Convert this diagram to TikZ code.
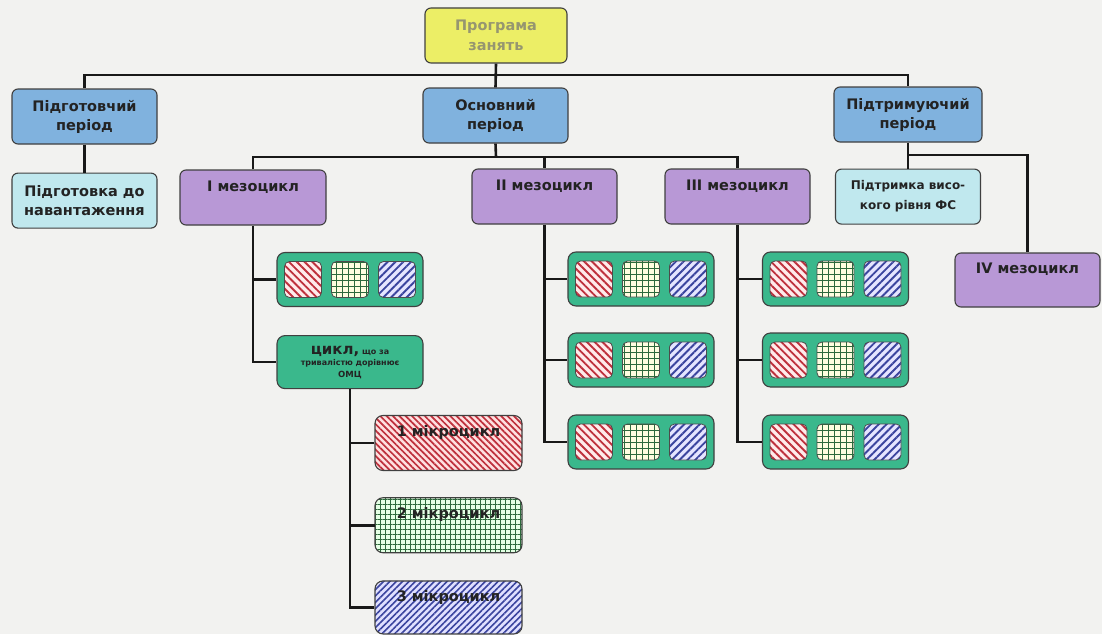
\documentclass[tikz,border=0pt]{standalone}
\usepackage{fontspec}
\setmainfont{DejaVu Sans}
\usetikzlibrary{positioning,patterns.meta}

\definecolor{bgpaper}{RGB}{242,242,240}
\definecolor{progyellow}{RGB}{236,238,102}
\definecolor{progtext}{RGB}{150,150,112}
\definecolor{periodblue}{RGB}{128,178,222}
\definecolor{taskcyan}{RGB}{192,232,238}
\definecolor{mesopurple}{RGB}{184,152,214}
\definecolor{cyclegreen}{RGB}{58,184,140}
\definecolor{stripered}{RGB}{190,48,60}
\definecolor{stripeblue}{RGB}{58,68,158}
\definecolor{gridgreen}{RGB}{45,105,60}
\definecolor{inktext}{RGB}{35,35,35}

\tikzset{
  conn/.style={line width=2.6pt, black!90},
  box/.style={draw=black!75, line width=1.1pt, rounded corners=6pt,
    minimum width=145pt, minimum height=55pt, inner sep=2pt,
    align=center, text=inktext, font=\fontsize{14.5}{19}\selectfont\bfseries},
  progbox/.style={box, fill=progyellow, minimum width=142pt, text=progtext,
    font=\fontsize{14.5}{20}\selectfont\bfseries},
  periodbox/.style={box, fill=periodblue},
  taskbox/.style={box, fill=taskcyan},
  mesobox/.style={box, fill=mesopurple},
  cyclebox/.style={box, fill=cyclegreen, minimum width=146pt, minimum height=54pt,
    rounded corners=8pt},
  sq/.style={draw=black!70, line width=0.8pt, rounded corners=5pt,
    minimum width=37pt, minimum height=36pt, inner sep=0pt},
  redsq/.style={sq, preaction={fill=white!92!red},
    pattern={Lines[angle=-45,distance=5.5pt,line width=1.9pt]}, pattern color=stripered},
  gridsq/.style={sq, preaction={fill=yellow!12},
    pattern={Hatch[angle=0,distance=6pt,line width=0.8pt]}, pattern color=gridgreen},
  bluesq/.style={sq, preaction={fill=white!90!blue},
    pattern={Lines[angle=45,distance=5.5pt,line width=1.9pt]}, pattern color=stripeblue},
  microbox/.style={box, minimum width=147pt, rounded corners=8pt},
  microred/.style={microbox, preaction={fill=white!88!red},
    pattern={Lines[angle=-45,distance=4.5pt,line width=1.7pt]}, pattern color=stripered},
  microgrid/.style={microbox, preaction={fill=green!10},
    pattern={Hatch[angle=0,distance=5pt,line width=0.8pt]}, pattern color=gridgreen},
  microblue/.style={microbox, preaction={fill=white!88!blue},
    pattern={Lines[angle=45,distance=4.5pt,line width=1.6pt]}, pattern color=stripeblue},
}

% row of three loads inside a green box
\newcommand{\weekrow}[2]{%
  \node[cyclebox] (#1) at (#2) {};
  \node[redsq] (#1r) at ([xshift=-47pt]#1.center) {};
  \node[gridsq] (#1g) at (#1.center) {};
  \node[bluesq] (#1b) at ([xshift=47pt]#1.center) {};
}

\begin{document}
\begin{tikzpicture}[x=1pt,y=-1pt]
\fill[bgpaper] (0,0) rectangle (1102,634);
\useasboundingbox (0,0) rectangle (1102,634);

% top levels
\node[progbox] (root) at (496,35.5) {Програма\\занять};
\node[periodbox] (prep) at (84.5,116.5) {Підготовчий\\період};
\node[periodbox] (main) at (495.5,115.5) {Основний\\період};
\node[periodbox, minimum width=148pt] (supp) at (908,114.5) {Підтримуючий\\період};

\node[taskbox, below=28pt of prep] (prepload) {Підготовка до\\навантаження};
\node[taskbox, below=26pt of supp, minimum width=145pt,
  font=\fontsize{12}{20}\selectfont\bfseries] (supphigh) {Підтримка висо-\\кого рівня ФС};

\node[mesobox, minimum width=146pt] (meso1) at (253,197.5) {I мезоцикл\\[3pt]\mbox{}};
\node[mesobox] (meso2) at (544.5,196.5) {II мезоцикл\\[3pt]\mbox{}};
\node[mesobox] (meso3) at (737.5,196.5) {III мезоцикл\\[3pt]\mbox{}};
\node[mesobox, minimum height=54pt] (meso4) at (1027.5,280) {IV мезоцикл\\[4pt]\mbox{}};

% I mesocycle
\weekrow{wk1}{350,279.5}
\node[cyclebox, below=28pt of wk1, minimum height=53pt, font=\fontsize{8}{11.5}\selectfont\bfseries] (cycle)
  {{\fontsize{15}{12}\selectfont цикл,} що за\\тривалістю дорівнює\\{\fontsize{8.5}{11.5}\selectfont ОМЦ}};

\node[microred] (micro1) at (448.5,443) {1 мікроцикл\\[5pt]\mbox{}};
\node[microgrid, below=26pt of micro1] (micro2) {2 мікроцикл\\[5pt]\mbox{}};
\node[microblue, below=27pt of micro2, minimum height=53pt] (micro3) {3 мікроцикл\\[4pt]\mbox{}};

% II and III mesocycles
\weekrow{wk21}{641,279}
\weekrow{wk22}{641,360}
\weekrow{wk23}{641,442}
\weekrow{wk31}{835.5,279}
\weekrow{wk32}{835.5,360}
\weekrow{wk33}{835.5,442}

% connectors
\coordinate (bus1) at (496,75);
\coordinate (bus2) at (496,157);
\coordinate (bus3) at (908,155);
\draw[conn] (root.south) -- (main.north);
\draw[conn] (prep.north) |- (bus1) -| (supp.north);
\draw[conn] (prep.south) -- (prepload.north);
\draw[conn] (supp.south) -- (supphigh.north);
\draw[conn] (bus3) -| (meso4.north);
\draw[conn] (main.south) -- (bus2);
\draw[conn] (meso1.north) |- (bus2) -| (meso3.north);
\draw[conn] (bus2 -| meso2.north) -- (meso2.north);

\draw[conn] (meso1.south) |- (cycle.west);
\draw[conn] (meso1.south |- wk1.west) -- (wk1.west);
\draw[conn] (cycle.south) |- (micro3.west);
\foreach \m in {micro1,micro2}
  \draw[conn] (cycle.south |- \m.west) -- (\m.west);

\draw[conn] (meso2.south) |- (wk23.west);
\foreach \w in {wk21,wk22}
  \draw[conn] (meso2.south |- \w.west) -- (\w.west);
\draw[conn] (meso3.south) |- (wk33.west);
\foreach \w in {wk31,wk32}
  \draw[conn] (meso3.south |- \w.west) -- (\w.west);
\end{tikzpicture}
\end{document}
